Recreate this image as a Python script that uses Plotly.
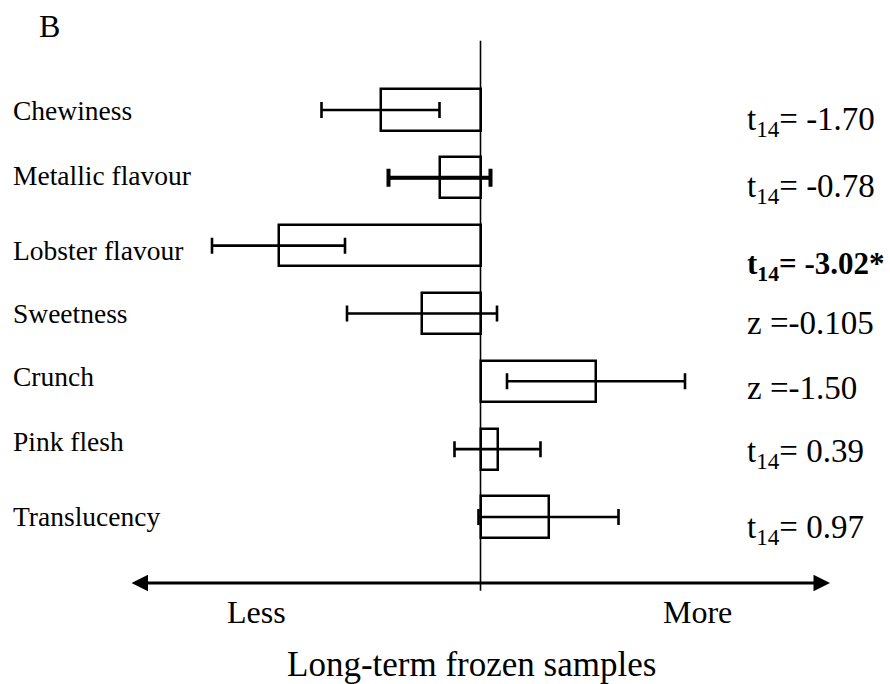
import plotly.graph_objects as go

# ---- data ----
attributes = ["Chewiness", "Metallic flavour", "Lobster flavour", "Sweetness",
              "Crunch", "Pink flesh", "Translucency"]
mean_diff = [-1.00, -0.41, -2.02, -0.585, 1.155, 0.17, 0.68]
err = [0.59, 0.51, 0.665, 0.75, 0.89, 0.43, 0.70]
stat_labels = ["t<sub>14</sub>= -1.70", "t<sub>14</sub>= -0.78", "<b>t<sub>14</sub>= -3.02*</b>",
               "z =-0.105", "z =-1.50", "t<sub>14</sub>= 0.39", "t<sub>14</sub>= 0.97"]
thick_err = ["Metallic flavour"]

# ---- style ----
W, H = 890, 684
FONT = "Liberation Serif, Times New Roman, serif"
y0_px, step_px = 110.0, 67.83     # pixel of first category, spacing
px_per_unit = 100.0
center_px = 480.5
label_nudge = [0, 2.5, -4.5, 0, 5, 7.5, 0]        # px up (+) for left labels
stat_nudge = [-11, -10.5, -20, -10, -7, -4.5, -13]  # px for right labels
stat_size = [33, 33, 31, 33, 33, 33, 33]

fig = go.Figure()
fig.add_trace(go.Bar(
    x=mean_diff, y=attributes, orientation="h", width=0.605,
    marker=dict(color="white", line=dict(color="black", width=2.5)),
    showlegend=False, hoverinfo="skip"))

fig.add_trace(go.Scatter(
    x=mean_diff, y=attributes, mode="markers",
    marker=dict(size=1, color="rgba(0,0,0,0)"),
    error_x=dict(type="data", array=err, visible=True, color="black",
                 thickness=2.6, width=8),
    showlegend=False, hoverinfo="skip"))

tx = [m for a, m in zip(attributes, mean_diff) if a in thick_err]
te = [e for a, e in zip(attributes, err) if a in thick_err]
ty = [a for a in attributes if a in thick_err]
fig.add_trace(go.Scatter(
    x=tx, y=ty, mode="markers",
    marker=dict(size=1, color="rgba(0,0,0,0)"),
    error_x=dict(type="data", array=te, visible=True, color="black",
                 thickness=4.0, width=9),
    showlegend=False, hoverinfo="skip"))

xr = [(0 - center_px) / px_per_unit, (W - center_px) / px_per_unit]
yr = [(H - y0_px) / step_px, (0 - y0_px) / step_px]


def py(p):
    return (p - y0_px) / step_px


def px(p):
    return (p - center_px) / px_per_unit


# vertical centre line
fig.add_shape(type="line", x0=0, x1=0, y0=py(40.7), y1=py(590.7), xref="x", yref="y",
              line=dict(color="black", width=1.6), layer="above")

# double-headed arrow
fig.add_annotation(x=px(830), y=py(583), ax=px(130), ay=py(583), xref="x", yref="y",
                   axref="x", ayref="y", text="", showarrow=True, arrowhead=2,
                   arrowside="end+start", arrowsize=1.1, arrowwidth=3, arrowcolor="black")

annots = []
for a, nud in zip(attributes, label_nudge):
    annots.append(dict(x=11 / W, xref="paper", y=a, yref="y", yshift=nud, text=a,
                       xanchor="left", yanchor="middle", showarrow=False,
                       font=dict(family=FONT, size=27.5, color="black")))
for a, s, nud, fs in zip(attributes, stat_labels, stat_nudge, stat_size):
    annots.append(dict(x=745 / W, xref="paper", y=a, yref="y", yshift=nud, text=s,
                       xanchor="left", yanchor="middle", showarrow=False,
                       font=dict(family=FONT, size=fs, color="black")))

annots.append(dict(x=37 / W, y=1 - 26 / H, xref="paper", yref="paper", text="B",
                   xanchor="left", yanchor="middle", showarrow=False,
                   font=dict(family=FONT, size=32, color="black")))
annots.append(dict(x=256 / W, y=1 - 612 / H, xref="paper", yref="paper", text="Less",
                   xanchor="center", yanchor="middle", showarrow=False,
                   font=dict(family=FONT, size=32, color="black")))
annots.append(dict(x=697 / W, y=1 - 612 / H, xref="paper", yref="paper", text="More",
                   xanchor="center", yanchor="middle", showarrow=False,
                   font=dict(family=FONT, size=32, color="black")))
annots.append(dict(x=471.5 / W, y=1 - 664 / H, xref="paper", yref="paper",
                   text="Long-term frozen samples",
                   xanchor="center", yanchor="middle", showarrow=False,
                   font=dict(family=FONT, size=35, color="black")))

for an in annots:
    fig.add_annotation(**an)

fig.update_layout(
    width=W, height=H, margin=dict(l=0, r=0, t=0, b=0),
    paper_bgcolor="white", plot_bgcolor="white",
    xaxis=dict(range=xr, visible=False, fixedrange=True),
    yaxis=dict(range=yr, visible=False, type="category",
               categoryorder="array", categoryarray=attributes),
    bargap=0,
)

fig.write_html("out.html")
